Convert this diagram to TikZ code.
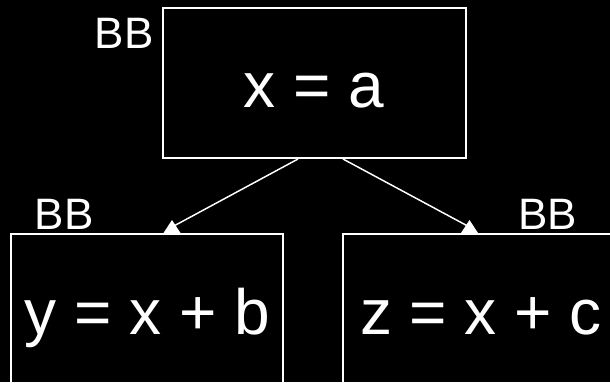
\documentclass[tikz,border=0pt]{standalone}
\usepackage{fontspec}
\setmainfont{Liberation Sans}
\begin{document}
\begin{tikzpicture}[x=0.75pt,y=-0.75pt,
  bbox/.style={draw=white,line width=1.5pt,minimum width=#1,inner sep=0pt},
  big/.style={text=white,font=\fontsize{48}{50}\selectfont,anchor=base,inner sep=0pt},
  lbl/.style={text=white,font=\fontsize{33}{35}\selectfont,anchor=base,inner sep=0pt},
  conn/.style={draw=white,line width=1.1pt},
  tip/.style={fill=white}]
\fill[black] (0,0) rectangle (610,382);
\useasboundingbox (0,0) rectangle (610,382);
\begin{scope}
\clip (0,0) rectangle (610,382);
\node[bbox=227.25pt,minimum height=112.5pt] (top) at (314,83) {};
\node[bbox=204pt,minimum height=150pt] (left) at (147,334) {};
\node[bbox=207pt,minimum height=150pt] (right) at (481,334) {};
\node[big] (t1) at (314,107) {x = a};
\node[big] (t2) at (147.5,334) {y = x + b};
\node[big] (t3) at (481,334) {z = x + c};
\node[lbl] (b1) at (124,48) {BB};
\node[lbl] (b2) at (64,229) {BB};
\node[lbl] (b3) at (547.5,229) {BB};
\path (top.south) ++(-16,0) coordinate (s1);
\path (top.south) ++(29,0) coordinate (s2);
\path (left.north) ++(25,0) coordinate (e1);
\path (right.north) ++(-11.5,0) coordinate (e2);
\path (e1) ++(0,-6) coordinate (m1);
\path (e2) ++(0,-6) coordinate (m2);
\draw[conn] (s1) -- (m1);
\draw[conn] (s2) -- (m2);
\fill[tip] (e1) ++(-8.5,0) -- ++(8.5,-13) -- ++(8.5,13) -- cycle;
\fill[tip] (e2) ++(-8.5,0) -- ++(8.5,-13) -- ++(8.5,13) -- cycle;
\end{scope}
\end{tikzpicture}
\end{document}
